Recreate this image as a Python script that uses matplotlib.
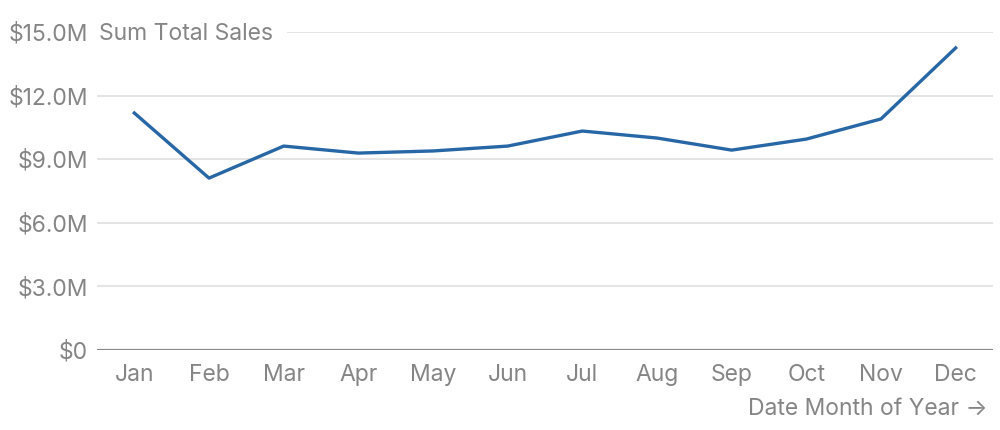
import matplotlib
matplotlib.use("Agg")
import matplotlib.pyplot as plt
from matplotlib.ticker import FuncFormatter

# monthly sales (millions of dollars)
MONTHS = ["Jan", "Feb", "Mar", "Apr", "May", "Jun",
          "Jul", "Aug", "Sep", "Oct", "Nov", "Dec"]
SALES_M = [11.18, 8.11, 9.62, 9.29, 9.39, 9.62,
           10.33, 10.0, 9.43, 9.95, 10.9, 14.25]
Y_TICKS = [0, 3, 6, 9, 12, 15]

TEXT_COLOR = "#858585"
LINE_COLOR = "#2767a5"
GRID_COLOR = "#e2e2e2"

plt.rcParams["font.family"] = ["Inter", "DejaVu Sans"]
plt.rcParams["font.size"] = 16.5

fig = plt.figure(figsize=(10, 4.3), dpi=100)
ax = fig.add_axes([0.097, 0.186, 0.896, 0.7395])

x = list(range(len(MONTHS)))
ax.plot(x, SALES_M, color=LINE_COLOR, linewidth=2.4, zorder=3,
        solid_joinstyle="round")

ax.set_xlim(-0.5, len(MONTHS) - 0.5)
ax.set_ylim(0, 15)

for v in Y_TICKS[1:-1]:
    ax.axhline(v, color=GRID_COLOR, linewidth=1.3, zorder=1)
# top gridline starts after the axis title
ax.axhline(Y_TICKS[-1], xmin=0.213, color=GRID_COLOR, linewidth=1.3, zorder=1)
ax.axhline(0, color="#8a8a8a", linewidth=1.6, zorder=2)

ax.set_yticks(Y_TICKS)
ax.yaxis.set_major_formatter(FuncFormatter(
    lambda v, p: "$0" if v == 0 else f"${v:.1f}M"))
ax.set_xticks(x)
ax.set_xticklabels(MONTHS)
ax.tick_params(axis="y", length=0, pad=6.5, colors=TEXT_COLOR)
ax.tick_params(axis="x", length=0, pad=10, colors=TEXT_COLOR)

for s in ax.spines.values():
    s.set_visible(False)

ax.text(0.002, 14.9, "Sum Total Sales", transform=ax.get_yaxis_transform(),
        ha="left", va="center", color=TEXT_COLOR, zorder=4)

fig.text(0.988, 0.05, "Date Month of Year \u2192", ha="right", va="center",
         color=TEXT_COLOR)

fig.savefig("out.png", dpi=100)
